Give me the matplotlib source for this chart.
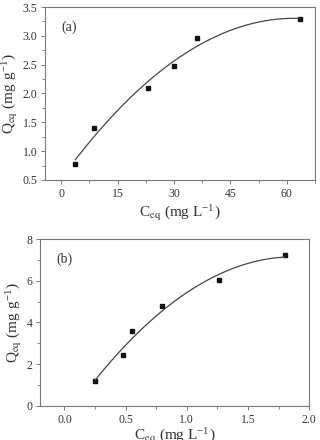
import numpy as np
import matplotlib
matplotlib.use('Agg')
import matplotlib.pyplot as plt
from matplotlib.ticker import MultipleLocator, FormatStrFormatter

plt.rcParams['font.family'] = 'Liberation Serif'
plt.rcParams['mathtext.fontset'] = 'stix'

# panel (a)
ceq_a = [3.8, 8.7, 23.0, 30.0, 36.0, 63.5]
qeq_a = [0.77, 1.41, 2.09, 2.47, 2.96, 3.29]
# panel (b)
ceq_b = [0.25, 0.48, 0.55, 0.80, 1.26, 1.80]
qeq_b = [1.20, 2.42, 3.60, 4.78, 6.02, 7.22]

frame = '#777777'
ink = '#333333'


def style_axes(ax, xmaj, xmin, ymaj, ymin):
    for side in ['top', 'right', 'left', 'bottom']:
        ax.spines[side].set_color(frame)
        ax.spines[side].set_linewidth(0.8)
    ax.xaxis.set_major_locator(MultipleLocator(xmaj))
    ax.xaxis.set_minor_locator(MultipleLocator(xmin))
    ax.yaxis.set_major_locator(MultipleLocator(ymaj))
    ax.yaxis.set_minor_locator(MultipleLocator(ymin))
    ax.tick_params(which='both', direction='out', color=frame, labelcolor=ink,
                   labelsize=8.5, top=False, right=False, pad=2.5)
    ax.tick_params(which='major', length=3, width=0.7)
    ax.tick_params(which='minor', length=2, width=0.6)


def draw_panel(ax, x, y, tag, xpad):
    ax.plot(x, y, 's', color='#111111', ms=3.2)
    # second-order polynomial fit drawn through the points
    fit = np.polyfit(x, y, 2)
    xs = np.linspace(min(x), max(x), 200)
    ax.plot(xs, np.polyval(fit, xs), color='#444444', lw=0.9)
    ax.text(0.06, 0.86, tag, transform=ax.transAxes, fontsize=10, color=ink)
    ax.set_xlabel(r'C$_{\rm eq}$ (mg L$^{\mathregular{-1}}$)', fontsize=11, color=ink, labelpad=xpad)
    ax.set_ylabel(r'Q$_{\rm eq}$ (mg g$^{\mathregular{-1}}$)', fontsize=11, color=ink, labelpad=2)


fig = plt.figure(figsize=(3.2, 4.4), dpi=100)

ax1 = fig.add_axes([0.1406, 0.591, 0.844, 0.393])
draw_panel(ax1, ceq_a, qeq_a, '(a)', 2)
ax1.set_xlim(-4.3, 67.5)
ax1.set_ylim(0.5, 3.5)
style_axes(ax1, 15, 7.5, 0.5, 0.25)
ax1.yaxis.set_major_formatter(FormatStrFormatter('%.1f'))

ax2 = fig.add_axes([0.125, 0.0773, 0.841, 0.3795])
draw_panel(ax2, ceq_b, qeq_b, '(b)', 0)
ax2.set_xlim(-0.2, 2.0)
ax2.set_ylim(0, 8)
style_axes(ax2, 0.5, 0.25, 2, 1)
ax2.xaxis.set_major_formatter(FormatStrFormatter('%.1f'))

fig.savefig('out.png', dpi=100)
